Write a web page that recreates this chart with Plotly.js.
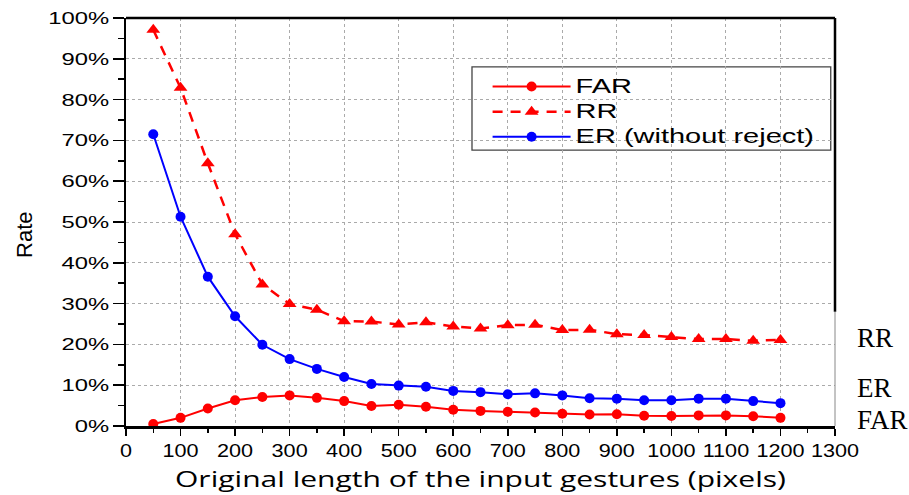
<!DOCTYPE html>
<html>
<head>
<meta charset="utf-8">
<script src="https://cdn.plot.ly/plotly-3.0.1.min.js"></script>
<style>
html,body{margin:0;padding:0;background:#fff;}
#chart{width:909px;height:495px;}
</style>
</head>
<body>
<div id="chart"></div>
<script>
const lengths = [50,100,150,200,250,300,350,400,450,500,550,600,650,700,750,800,850,900,950,1000,1050,1100,1150,1200];
const farValues = [0.5,2.0,4.3,6.3,7.1,7.5,6.9,6.1,4.9,5.2,4.7,4.0,3.7,3.5,3.3,3.0,2.8,2.9,2.5,2.45,2.6,2.6,2.4,2.0];
const rrValues = [97.1,82.9,64.4,47.0,34.7,29.9,28.5,25.7,25.6,24.9,25.4,24.4,23.9,24.7,24.8,23.5,23.6,22.5,22.3,21.8,21.3,21.3,20.9,21.1];
const erValues = [71.5,51.3,36.6,26.9,19.9,16.4,14.0,12.0,10.3,9.9,9.6,8.6,8.3,7.8,8.0,7.5,6.8,6.7,6.3,6.3,6.7,6.7,6.1,5.6];
const seriesNames = ['FAR','RR','ER (without reject)'];
const xTickValues = [0,100,200,300,400,500,600,700,800,900,1000,1100,1200,1300];
const sideLabels = [{text:'RR', y:21.6},{text:'ER', y:9.3},{text:'FAR', y:1.5}];

const traces = [
  {x:lengths, y:farValues, name:seriesNames[0], mode:'lines+markers',
   line:{color:'#ff0000', width:2}, marker:{symbol:'circle', size:10, color:'#ff0000'}},
  {x:lengths, y:rrValues, name:seriesNames[1], mode:'lines+markers',
   line:{color:'#ff0000', width:2.5, dash:'10px,8px'}, marker:{symbol:'triangle-up', size:12, color:'#ff0000'}},
  {x:lengths, y:erValues, name:seriesNames[2], mode:'lines+markers',
   line:{color:'#0000ff', width:2}, marker:{symbol:'circle', size:10, color:'#0000ff'}}
];

const layout = {
  width:909, height:495,
  margin:{l:126, r:74, t:18, b:69},
  paper_bgcolor:'#fff', plot_bgcolor:'#fff',
  showlegend:true,
  legend:{x:0.51, y:0.875, xanchor:'left', yanchor:'top', bgcolor:'rgba(0,0,0,0)',
          borderwidth:0, itemwidth:78,
          font:{family:'Liberation Sans', size:17, color:'#000'}, tracegroupgap:0},
  xaxis:{range:[0,1300], tickmode:'array', tickvals:xTickValues,
         ticks:'outside', ticklen:7, tickwidth:1.5, tickcolor:'#000',
         minor:{dtick:50, ticks:'outside', ticklen:4, tickcolor:'#000', showgrid:false},
         showline:true, linecolor:'#000', linewidth:2.5, zeroline:false,
         showgrid:true, gridcolor:'#aaaaaa', gridwidth:1, griddash:'3px,3px',
         tickfont:{family:'Liberation Sans', size:18, color:'#000'},
         title:{text:'Original length of the input gestures (pixels)', standoff:12,
                font:{family:'Open Sans', size:21, color:'#000'}}},
  yaxis:{range:[0,100], dtick:10, ticksuffix:'%',
         ticks:'outside', ticklen:11, tickwidth:1.5, tickcolor:'#000',
         minor:{dtick:5, ticks:'outside', ticklen:6, tickcolor:'#000', showgrid:false},
         showline:true, linecolor:'#000', linewidth:2.5, zeroline:false,
         showgrid:true, gridcolor:'#aaaaaa', gridwidth:1, griddash:'3px,3px',
         tickfont:{family:'Liberation Sans', size:17, color:'#000'}},
  shapes:[
    {type:'rect', xref:'paper', yref:'paper', x0:0.488, x1:0.994, y0:0.676, y1:0.880, layer:'between',
     fillcolor:'#fff', line:{color:'#444', width:1.3}},
    {type:'line', xref:'paper', yref:'paper', x0:0, x1:1, y0:1, y1:1, line:{color:'#000', width:2.5}},
    {type:'line', xref:'paper', yref:'y', x0:1, x1:1, y0:100, y1:28, line:{color:'#000', width:2.5}},
    {type:'line', xref:'paper', yref:'y', x0:1, x1:1, y0:28, y1:0, line:{color:'#888', width:1}}
  ],
  annotations: sideLabels.map(s => ({text:s.text, xref:'paper', yref:'y', x:1.028, y:s.y,
      xanchor:'left', yanchor:'middle', showarrow:false,
      font:{family:'Liberation Serif', size:27, color:'#000'}})).concat([
    {text:'Rate', xref:'paper', yref:'paper', x:-0.144, y:0.468, textangle:-90,
     xanchor:'center', yanchor:'middle', showarrow:false,
     font:{family:'Liberation Sans', size:22, color:'#000'}}
  ])
};

function stretchText(gd) {
  const stretch = (sel, k, fontSize) => {
    gd.querySelectorAll(sel).forEach(t => {
      t.removeAttribute('textLength');
      t.removeAttribute('lengthAdjust');
      if (fontSize) t.style.fontSize = fontSize + 'px';
      const w = t.getComputedTextLength();
      if (w > 0) {
        t.setAttribute('textLength', (w * k).toFixed(1));
        t.setAttribute('lengthAdjust', 'spacingAndGlyphs');
      }
    });
  };
  stretch('g.ytick text', 1.4);
  stretch('g.xtick text', 1.2);
  stretch('text.legendtext', 1.38, 21);
  const xt = gd.querySelector('text.xtitle');
  if (xt) { xt.setAttribute('textLength', '611'); xt.setAttribute('lengthAdjust', 'spacingAndGlyphs'); }
  gd.querySelectorAll('g.legend g.scrollbox, g.legend').forEach(g => g.removeAttribute('clip-path'));
}

Plotly.newPlot('chart', traces, layout, {staticPlot:true, displayModeBar:false}).then(gd => {
  stretchText(gd);
  setTimeout(() => stretchText(gd), 50);
});
</script>
</body>
</html>
